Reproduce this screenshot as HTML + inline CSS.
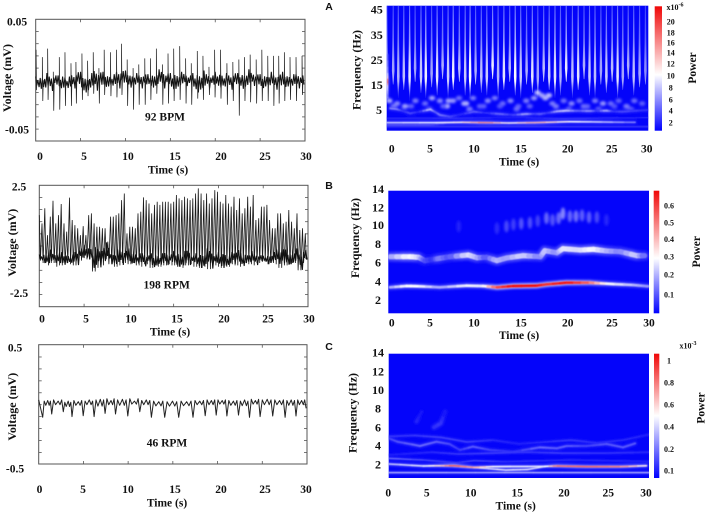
<!DOCTYPE html>
<html lang="en">
<head>
<meta charset="utf-8">
<title>ECG, respiration and EMG time series with power spectrograms</title>
<style>
html,body{margin:0;padding:0;background:#fff;width:708px;height:516px;overflow:hidden}
svg{display:block;filter:blur(.3px)}
text{font-family:"Liberation Serif",serif;font-weight:bold;fill:#111;font-size:11.5px;text-anchor:middle;dominant-baseline:central}
.big{font-size:12px}
.cb{font-size:8px}
.letter{font-family:"Liberation Sans",sans-serif;font-size:10.5px}
</style>
</head>
<body>
<svg id="fig" xmlns="http://www.w3.org/2000/svg" width="708" height="516" viewBox="0 0 708 516">
<defs>
<filter id="faint" x="-5%" y="-5%" width="110%" height="110%"><feGaussianBlur stdDeviation="0.3"/></filter>
<filter id="soft" x="-5%" y="-20%" width="110%" height="140%"><feGaussianBlur stdDeviation="0.55"/></filter>
<filter id="softer" x="-5%" y="-20%" width="110%" height="140%"><feGaussianBlur stdDeviation="1.3"/></filter>
<clipPath id="clipA"><rect x="386.7" y="5.7" width="261.6" height="125"/></clipPath>
<clipPath id="clipB"><rect x="388.3" y="190.7" width="260.7" height="122.6"/></clipPath>
<clipPath id="clipC"><rect x="388.7" y="353.7" width="260.3" height="124.3"/></clipPath>
<linearGradient id="cbarA" x1="0" y1="0" x2="0" y2="1"><stop offset="0" stop-color="#f00808"/><stop offset=".55" stop-color="#fff"/><stop offset="1" stop-color="#0000ff"/></linearGradient>
<linearGradient id="cbarC" x1="0" y1="0" x2="0" y2="1"><stop offset="0" stop-color="#f00808"/><stop offset=".5" stop-color="#fff"/><stop offset="1" stop-color="#0000ff"/></linearGradient>
<linearGradient id="streakFill" gradientUnits="userSpaceOnUse" x1="0" y1="5.7" x2="0" y2="98">
<stop offset="0" stop-color="#7078ff"/>
<stop offset=".35" stop-color="#a0a6ff"/>
<stop offset=".62" stop-color="#f4f4ff"/>
<stop offset=".82" stop-color="#ffffff"/>
<stop offset="1" stop-color="#ffffff" stop-opacity=".1"/>
</linearGradient>
</defs>

<!-- left panels: frames -->
<rect x="35.7" y="19.3" width="269.3" height="121.7" fill="#fff" stroke="#555" stroke-width="1"/>
<rect x="39.3" y="185.3" width="268.7" height="121.4" fill="#fff" stroke="#555" stroke-width="1"/>
<rect x="38.7" y="344.7" width="268.3" height="119.3" fill="#fff" stroke="#555" stroke-width="1"/>
<g id="leftMarks"></g>

<!-- left panels: labels -->
<g>
<text x="17" y="22.7">0.05</text>
<text x="17" y="130.7">-0.05</text>
<text class="big" transform="translate(7,78) rotate(-90)">Voltage (mV)</text>
<text x="40" y="157">0</text>
<text x="84" y="157">5</text>
<text x="128" y="157">10</text>
<text x="175" y="157">15</text>
<text x="221" y="157">20</text>
<text x="265" y="157">25</text>
<text x="306" y="157">30</text>
<text x="168" y="170.5">Time (s)</text>
<text x="165" y="117.7">92 BPM</text>
</g>
<g>
<text x="19" y="187.3">2.5</text>
<text x="19" y="294">-2.5</text>
<text class="big" transform="translate(12,242.7) rotate(-90)">Voltage (mV)</text>
<text x="42" y="319.3">0</text>
<text x="86" y="319.3">5</text>
<text x="131" y="319.3">10</text>
<text x="177" y="319.3">15</text>
<text x="224" y="319.3">20</text>
<text x="268" y="319.3">25</text>
<text x="309" y="319.3">30</text>
<text x="170" y="332.7">Time (s)</text>
<text x="166.7" y="285.7">198 RPM</text>
</g>
<g>
<text x="15" y="348.3">0.5</text>
<text x="15" y="469.3">-0.5</text>
<text class="big" transform="translate(12,406.7) rotate(-90)">Voltage (mV)</text>
<text x="39.5" y="490">0</text>
<text x="83" y="490">5</text>
<text x="128" y="490">10</text>
<text x="175" y="490">15</text>
<text x="221" y="490">20</text>
<text x="265" y="490">25</text>
<text x="306" y="490">30</text>
<text x="167" y="503.3">Time (s)</text>
<text x="167" y="443.3">46 RPM</text>
</g>

<!-- right panels -->
<text class="letter" x="329" y="7">A</text>
<text class="letter" x="329" y="186">B</text>
<text class="letter" x="329" y="347">C</text>

<rect x="386.7" y="5.7" width="261.6" height="125" fill="#0404fa"/>
<rect x="388.3" y="190.7" width="260.7" height="122.6" fill="#0404fa"/>
<rect x="388.7" y="353.7" width="260.3" height="124.3" fill="#0404fa"/>
<g id="heatA" clip-path="url(#clipA)"></g>
<g id="heatB" clip-path="url(#clipB)"></g>
<g id="heatC" clip-path="url(#clipC)"></g>

<rect x="654.7" y="6.3" width="7.3" height="124.4" fill="url(#cbarA)"/>
<rect x="653.7" y="190.7" width="5.6" height="122.6" fill="url(#cbarA)"/>
<rect x="654" y="353.7" width="5.3" height="124.3" fill="url(#cbarC)"/>

<g>
<text class="big" x="376.7" y="9.3">45</text>
<text class="big" x="376.7" y="35">35</text>
<text class="big" x="376.7" y="60">25</text>
<text class="big" x="376.7" y="85">15</text>
<text class="big" x="379" y="110">5</text>
<text class="big" transform="translate(356.7,70) rotate(-90)">Frequency (Hz)</text>
<text x="391.7" y="149.5">0</text>
<text x="430" y="149.5">5</text>
<text x="474" y="149.5">10</text>
<text x="521" y="149.5">15</text>
<text x="567.7" y="149.5">20</text>
<text x="611.7" y="149.5">25</text>
<text x="646.7" y="149.5">30</text>
<text x="519" y="162.5">Time (s)</text>
<text class="cb" x="670.7" y="22">20</text>
<text class="cb" x="670.7" y="33">18</text>
<text class="cb" x="670.7" y="43">16</text>
<text class="cb" x="670.7" y="53">14</text>
<text class="cb" x="670.7" y="64">12</text>
<text class="cb" x="670.7" y="76">10</text>
<text class="cb" x="670.7" y="88">8</text>
<text class="cb" x="670.7" y="100">6</text>
<text class="cb" x="670.7" y="111">4</text>
<text class="cb" x="670.7" y="123">2</text>
<text class="cb" x="675" y="7.5">x10<tspan dy="-2" font-size="6">-6</tspan></text>
<text transform="translate(693,68) rotate(-90)">Power</text>
</g>
<g>
<text class="big" x="378" y="189">14</text>
<text class="big" x="378" y="207.3">12</text>
<text class="big" x="378" y="225">10</text>
<text class="big" x="378" y="244">8</text>
<text class="big" x="378" y="262.7">6</text>
<text class="big" x="378" y="281.7">4</text>
<text class="big" x="378" y="300">2</text>
<text class="big" transform="translate(355,238) rotate(-90)">Frequency (Hz)</text>
<text x="391.7" y="323.3">0</text>
<text x="430" y="323.3">5</text>
<text x="474" y="323.3">10</text>
<text x="521" y="323.3">15</text>
<text x="567.7" y="323.3">20</text>
<text x="612" y="323.3">25</text>
<text x="649" y="323.3">30</text>
<text x="519" y="336">Time (s)</text>
<text class="cb" x="669" y="206">0.6</text>
<text class="cb" x="669" y="223">0.5</text>
<text class="cb" x="669" y="239.5">0.4</text>
<text class="cb" x="669" y="257">0.3</text>
<text class="cb" x="669" y="275">0.2</text>
<text class="cb" x="669" y="295">0.1</text>
<text transform="translate(697,251.7) rotate(-90)">Power</text>
</g>
<g>
<text class="big" x="378" y="352.7">14</text>
<text class="big" x="378" y="371.3">12</text>
<text class="big" x="378" y="390">10</text>
<text class="big" x="378" y="408.7">8</text>
<text class="big" x="378" y="427.3">6</text>
<text class="big" x="378" y="445.7">4</text>
<text class="big" x="378" y="464.3">2</text>
<text class="big" transform="translate(352.7,413) rotate(-90)">Frequency (Hz)</text>
<text x="388.3" y="493.7">0</text>
<text x="426.7" y="493.7">5</text>
<text x="470.7" y="493.7">10</text>
<text x="517.3" y="493.7">15</text>
<text x="564" y="493.7">20</text>
<text x="608.3" y="493.7">25</text>
<text x="646" y="493.7">30</text>
<text x="515.7" y="506.7">Time (s)</text>
<text class="cb" x="669" y="361">1</text>
<text class="cb" x="669" y="383">0.8</text>
<text class="cb" x="669" y="405">0.6</text>
<text class="cb" x="669" y="427">0.4</text>
<text class="cb" x="669" y="449.3">0.2</text>
<text class="cb" x="669" y="471">0.1</text>
<text class="cb" x="688" y="346">x10<tspan dy="-2" font-size="6">-3</tspan></text>
<text transform="translate(701.5,408) rotate(-90)">Power</text>
</g>
</svg>

<script>
/* ---------- tick values ---------- */
var timeTicks = [5, 10, 15, 20, 25];
var tickSteps = [-4, -3, -2, -1, 0, 1, 2, 3, 4];

/* ---------- panel 1: 92 BPM trace (microvolts) ---------- */
var ecgBeatTimes = [0.04,0.74,1.33,1.96,2.63,3.26,3.93,4.48,5.15,5.78,6.41,7.04,7.63,8.33,9.0,9.56,10.19,10.85,11.48,12.15,12.78,13.44,14.11,14.74,15.37,16.04,16.7,17.33,18,18.63,19.3,19.93,20.59,21.3,21.96,22.63,23.26,23.89,24.56,25.19,25.85,26.48,27.07,27.7,28.33,29,29.67];
var ecgPeaks = [25,19,26,7,19,23,14,15,22,16,23,10,25,23,25,30,17,10,13,18,18,26,13,22,26,28,18,14,24,20,11,25,25,14,15,17,19,21,17,25,20,20,20,23,19,19,20];
var ecgTroughs = [-8,-17,-16,-25,-24,-21,-21,-19,-16,-13,-11,-19,-12,-13,-14,-12,-21,-24,-20,-20,-16,-11,-20,-19,-17,-16,-19,-20,-15,-16,-12,-14,-15,-20,-17,-29,-17,-18,-19,-17,-17,-21,-19,-17,-16,-17,-12];
var ecgBandUpper = [3,5,6,4,5,4,6,3,5,8,7,5,6,9,8,7,6,5,8,9,8,7,6,5,6,5,7,9,8,7,6,8,7,6,5,6,9,8,6,5,7,8,6,5,7,6,8,9,7,6,5,6,7,5,6,7,6,5,6,5,4];
var ecgBandLower = [-6,-7,-8,-9,-6,-7,-6,-8,-7,-6,-9,-10,-8,-9,-7,-6,-5,-6,-7,-5,-4,-6,-5,-7,-6,-5,-6,-5,-7,-6,-8,-7,-6,-5,-6,-8,-10,-9,-7,-6,-5,-6,-7,-8,-6,-5,-7,-6,-5,-6,-7,-5,-6,-8,-7,-6,-5,-6,-7,-6,-5];
var bandTexture = [1,.6,.35,.9,.5,1,.4,.75,.3,.7,1,.45,.85,.35,.6,.95,.5,.3,.8,.55];

/* ---------- panel 2: 198 RPM trace (mV) ---------- */
var respPeaks = [1.27,.93,1.55,.45,1.21,1.86,.93,1.27,1.73,.93,.59,1.99,1.07,.86,.73,.45,.82,.45,1.27,1.34,.93,.79,.79,.73,.73,.18,1.21,1.21,1.27,1.34,1.89,2.16,.52,.79,.79,.73,1.34,1.41,2.0,1.89,1.75,1.34,1.69,1.82,1.69,1.82,1.82,1.82,1.75,1.82,2.1,1.96,1.89,2.03,1.96,1.89,1.96,2.16,2.37,2.16,1.89,2.16,1.75,1.96,2.3,2.23,1.82,1.75,2.1,1.75,1.62,2.03,1.48,1.96,1.34,1.55,2.03,1.62,2.1,1.07,1.14,1.62,1.62,1.69,1.07,.73,.73,1.34,1.34,.93,1.0,1.48,1.0,.73,1.34,.66,.73,.52];
var respBandUpper = [-.35,-.25,-.15,-.3,-.2,-.25,-.3,-.35,-.2,-.05,.05,.05,-.05,-.05,.0,.15,-.2,-.15,-.1,-.15,-.1,-.2,-.3,-.25,-.35,-.3,-.25,-.3,-.25,-.3,-.2,-.15,-.2,-.15,-.35,-.3,-.2,-.1,-.15,-.3,-.25,-.15,-.35,-.2,-.1,-.3,-.25,-.2,-.3,-.35,-.4,-.3,-.25,-.1,-.05,-.15,-.2,-.1,-.3,-.1,.05];
var respBandLower = [-.6,-.7,-.8,-.7,-.85,-.8,-.7,-.75,-.8,-.6,-.5,-.55,-1.05,-.9,-.8,-.55,-.75,-.85,-.8,-.7,-.75,-.7,-.8,-.85,-.75,-.9,-.8,-.85,-.8,-.75,-.8,-.85,-.9,-.8,-.75,-.85,-.9,-.85,-.95,-.8,-.85,-.9,-.85,-.75,-.8,-.85,-.7,-.75,-.8,-.7,-.65,-.75,-.7,-.75,-.9,-.8,-.75,-.7,-1.0,-.7,-.55];

/* ---------- panel 3: 46 RPM trace (mV) ---------- */
var waveTroughTimes = [0.45,1.45,2.75,3.72,4.98,6.2,7.43,8.59,9.96,11.3,12.6,14.09,15.65,17.25,18.62,19.85,21.04,22.34,23.57,24.76,26.17,27.55,28.77,29.9];
var waveTroughs = [-.106,-.078,-.059,-.1,-.092,-.1,-.073,-.078,-.095,-.059,-.106,-.106,-.106,-.106,-.092,-.087,-.095,-.087,-.106,-.1,-.095,-.106,-.095,-.03];
var wavePeakA = [.03,.04,.02,.035,.03,.04,.05,.04,.05,.035,.03,.025,.03,.035,.04,.04,.035,.03,.045,.04,.04,.035,.04,.03];
var waveDips = [-.005,.0,-.015,-.005,.0,-.012,.0,-.005,.005,.0,-.01,-.012,-.008,.0,.0,.005,-.005,-.008,.005,.0,.0,-.005,.0,.0];
var wavePeakB = [.035,.03,.03,.025,.04,.045,.035,.045,.03,.04,.025,.03,.025,.03,.035,.035,.03,.04,.035,.045,.035,.04,.035,.02];

/* ---------- spectrogram A ---------- */
var aStreakPower = [.5,.65,.7,.75,.9,.65,.8,.95,.65,.9,.7,.8,.95,.75,.8,1,.7,.75,.8,.95,.7,.9,.75,1,.8,.7,.9,.65,.75,.8,.9,.7,.95,.75,.9,.7,.8,.75,.65,.8,.75,.9,.65,.7,.75,.65,.55];
var aStreakBase = [14,17,12,15,11,18,14,12,16,13,19,12,15,18,13,12,17,14,13,19,12,15,18,13,12,17,14,12,18,15,12,13,18,12,15,19,13,12,17,14,18,12,15,19,13,16,17];
var aSpeckleTimes = [.3,1.2,2.1,3.3,4.4,5.2,6.1,6.9,7.6,8.3,9.1,9.9,10.7,11.6,12.4,13.3,14.2,15.1,16,16.9,17.8,18.6,19.4,20.3,21.2,22.1,23,23.9,24.8,25.7,26.6,27.5,28.4,29.3,7.1,8.9,17.3,18.2,.8,2.8,4.9,6.5,9.5,11.1,13,14.9,16.4,19,20.9,22.6,24.3,26.1,28];
var aSpeckleFreqs = [11,10,9,11,10,12,11,9,11,12,10,12,9,11,12,10,11,9,11,12,13,13,9,11,10,11,9,11,10,10,11,9,11,10,11,10,14,12,9,9,8,9,8,9,9,8,9,10,8,9,8,9,8];
var aSpecklePower = [.26,.2,.24,.18,.16,.24,.2,.26,.22,.16,.28,.18,.14,.2,.18,.16,.2,.14,.18,.22,.24,.28,.18,.16,.2,.16,.14,.18,.22,.16,.14,.18,.16,.14,.24,.26,.28,.26,.18,.14,.16,.14,.18,.14,.12,.16,.14,.18,.14,.16,.14,.12,.14];
var aMainTimes = [0,5.7,8.7,11.4,14,17,20.9,24.7,28.5];
var aMainFreqs = [2.96,2.96,3.08,2.96,2.83,2.96,3.32,3.2,3.08];
var aMainPower = [.42,.5,.55,.78,.5,.7,.5,.42,.22];
var aLowTimes = [0,5,6.5];
var aLowFreqs = [2.1,2.1,2.3];
var aLowPower = [.22,.2,.05];
var aBottomTimes = [0,10,20,30];
var aBottomFreqs = [1.48,1.48,1.48,1.48];
var aBottomPower = [.14,.14,.14,.14];
var aMidTimes = [.4,1.1,1.9,2.7,3.8,5,5.6,6.1,7.3,8.5,10,11.5,13,14.5,16,17,17.6,18.6,19.5,20.6,22,23.3,24.2,25.2,26,27,29.9];
var aMidFreqs = [8.23,7.99,7.2,6.39,7,7.86,6.8,5.78,5.16,6,7,6.5,6.14,5.8,6.14,6.2,6.14,6.6,7.13,7.37,7.3,7.25,7.3,7.37,7.1,7,7.62];
var aMidPower = [.22,.25,.08,.14,.05,.38,.15,.22,.13,.05,.18,.06,.2,.08,.32,.1,.18,.08,.3,.38,.15,.28,.08,.34,.08,.14,.08];
var aFaintTimes = [0,8,14,20,30];
var aFaintFreqs = [4.6,4.6,4.8,4.5,4.8];
var aFaintPower = [.08,.12,.06,.12,.08];
var aEdgeTimes = [.1,.1,.1,.1,.1];
var aEdgeFreqs = [28,21,18,16,12];
var aEdgePower = [.15,.3,.9,.5,.3];

/* ---------- spectrogram B ---------- */
var bFirstTimes = [.2,2.1,3.6,5.9,9,10.9,12.5,14.4,17.1,18.2,20.5,23.2,25.1,28.2,29.9];
var bFirstFreqs = [3.38,3.52,3.49,3.38,3.56,3.52,3.38,3.52,3.56,3.7,3.88,3.88,3.77,3.63,3.49];
var bFirstPower = [.3,.5,.5,.3,.48,.45,.85,1,1,.9,1,.8,.5,.36,.28];
var bSecondTimes = [.2,2.5,3.5,4.2,5.2,5.9,7.1,9.2,10.2,11.3,12.5,13.6,15.5,17.5,18,19.4,20.1,22.1,23.6,25.1,26.7,28.6,29.5];
var bSecondFreqs = [6.71,6.71,6.64,6.28,6.42,6.53,6.71,6.89,6.6,6.64,6.28,6.57,6.82,6.71,7.36,7.14,7.58,7.43,7.51,7.33,7.25,6.82,6.82];
var bSecondPower = [.3,.5,.42,.16,.08,.26,.14,.45,.36,.14,.36,.3,.42,.24,.4,.26,.45,.42,.5,.36,.24,.42,.18];
var bWispTimes = [12.5,13.6,14.4,15.3,16.3,17.2,18.2,18.9,19.6,20.1,20.9,21.6,22.3,23.1,24,25.1,8.1];
var bWispFreqs = [9.8,10,10.2,10.3,10.4,10.6,10.9,10.7,10.9,11.4,11.1,11.1,11.2,11,11,10.7,10];
var bWispPower = [.08,.14,.12,.16,.15,.12,.2,.16,.2,.26,.2,.22,.18,.18,.14,.07,.06];

/* ---------- spectrogram C ---------- */
var cMainTimes = [0,4,6,7.5,9.8,12,18,19.4,22.9,26.7,29.7];
var cMainFreqs = [2.03,1.82,1.85,1.85,1.67,1.75,1.78,1.82,1.75,1.75,1.85];
var cMainPower = [.36,.45,.6,.85,.7,.5,.45,.78,.82,.76,.5];
var cLowerTimes = [7,10.5,13.5,16,18.2];
var cLowerFreqs = [1.85,1.6,1.38,1.44,1.78];
var cLowerPower = [.3,.42,.5,.48,.4];
var cSteadyTimes = [0,10,20,30];
var cSteadyFreqs = [1.1,1.1,1.1,1.1];
var cSteadyPower = [.42,.4,.42,.4];
var cUpperTimes = [0,4,7.8,9.8,13.5,21,30];
var cUpperFreqs = [2.64,2.46,2.18,2.39,2.28,2.46,2.3];
var cUpperPower = [.22,.14,.1,.14,.1,.08,.07];
var cBandTimes = [0,1,3.6,5.5,7,8.2,9.7,11.7,14.4,17.4,19.4,20.5,22.8,25.1,27,28.4];
var cBandFreqs = [4.79,4.43,3.97,4.43,4.18,3.54,3.9,3.54,3.36,3.82,3.72,3.97,3.97,4.18,3.82,4.25];
var cBandPower = [.12,.15,.2,.18,.14,.1,.18,.12,.08,.2,.17,.18,.12,.16,.17,.16];
var cBandTwoTimes = [0,3,6,9,12,15,18,21,24,27,30];
var cBandTwoFreqs = [5,5.1,4.9,4.4,4.6,4.2,4.4,4.6,4.3,4.6,5.2];
var cBandTwoPower = [.1,.1,.12,.12,.08,.06,.08,.1,.08,.08,.06];
var cBandThreeTimes = [0,5,8,12,16,20,25,30];
var cBandThreeFreqs = [3,3.3,3.1,3.2,3.3,3.2,3.2,3.3];
var cBandThreePower = [.05,.08,.1,.12,.1,.12,.1,.08];
var cHookTimes = [5.2,6,6.5];
var cHookFreqs = [5.98,6.41,7.66];
var cHookPower = [.08,.1,.03];
var cHookTwoTimes = [3.2,3.8];
var cHookTwoFreqs = [6.58,7.66];
var cHookTwoPower = [.07,.02];

/* ---------- helpers ---------- */
var NS = 'http://www.w3.org/2000/svg';
function make(tag, attrs, parent) {
  var el = document.createElementNS(NS, tag);
  for (var k in attrs) el.setAttribute(k, attrs[k]);
  parent.appendChild(el);
  return el;
}
function colormap(p) {
  p = Math.max(0, Math.min(1, p));
  var r, g, b;
  if (p < .5) { var q = p / .5; r = 4 + 251 * q; g = 4 + 251 * q; b = 250 + 5 * q; }
  else { var s = (p - .5) / .5; r = 255 - 15 * s; g = 255 - 245 * s; b = 255 - 245 * s; }
  return 'rgb(' + Math.round(r) + ',' + Math.round(g) + ',' + Math.round(b) + ')';
}

/* ---------- scales ---------- */
function x1(t) { return 35.7 + t * 8.977; }
function y1(uV) { return 80.3 - uV * 1.22; }
function x2(t) { return 39.3 + t * 8.957; }
function y2(v) { return 246 - v * 24.3; }
function x3(t) { return 38.7 + t * 8.943; }
function y3(v) { return 404.7 - v * 119.3; }
function hxA(t) { return 386.7 + t * 8.72; }
function hyA(f) { return 130.7 - f * 2.717; }
function hxB(t) { return 388.3 + t * 8.69; }
function hyB(f) { return 300 - (f - 2) * 9.2; }
function hxC(t) { return 388.7 + t * 8.68; }
function hyC(f) { return 464.3 - (f - 2) * 9.3; }

/* ---------- time-series panels ---------- */
var left = document.getElementById('leftMarks');

function drawTicks(xs, top, bottom, lft, rgt, mid, step, name) {
  var g = make('g', {stroke: '#555', 'stroke-width': .8, fill: 'none'}, left);
  
  
  timeTicks.forEach(function (t) {
    make('line', {x1: xs(t), x2: xs(t), y1: top, y2: top + 3}, g);
    make('line', {x1: xs(t), x2: xs(t), y1: bottom, y2: bottom - 3}, g);
  });
  tickSteps.forEach(function (k) {
    var y = mid + k * step;
    make('line', {x1: lft, x2: lft + 3, y1: y, y2: y}, g);
    make('line', {x1: rgt, x2: rgt - 3, y1: y, y2: y}, g);
  });
}
function bandZigzag(upper, lower, xs, ys, name) {
  var pts = [], c = 0;
  for (var i = 0; i < upper.length - 1; i++) {
    var mid = (upper[i] + lower[i]) / 2;
    for (var k = 0; k < 4; k++) {
      var edge = k % 2 === 0 ? upper[i] : lower[i];
      var v = mid + (edge - mid) * bandTexture[c % bandTexture.length];
      c++;
      pts.push(xs((i + k / 4) * .5).toFixed(1) + ',' + ys(v).toFixed(1));
    }
  }
  var el = make('polyline', {points: pts.join(' '), fill: 'none', stroke: '#111', 'stroke-width': 1.05, 'stroke-linejoin': 'bevel'}, left);
  
  
}

drawTicks(x1, 19.3, 141, 35.7, 305, 80.3, 12.2, 'ecg-ticks');
drawTicks(x2, 185.3, 306.7, 39.3, 308, 246, 12.15, 'respiration-ticks');
drawTicks(x3, 344.7, 464, 38.7, 307, 404.7, 11.93, 'emg-ticks');

bandZigzag(ecgBandUpper, ecgBandLower, x1, y1, 'ecg-noise-band');
ecgBeatTimes.forEach(function (t, i) {
  var pts = x1(t) + ',' + y1(0) + ' ' + x1(t) + ',' + y1(ecgPeaks[i]) + ' ' + x1(t + .05) + ',' + y1(ecgTroughs[i]) + ' ' + x1(t + .1) + ',' + y1(0);
  var el = make('polyline', {points: pts, fill: 'none', stroke: '#222', 'stroke-width': .75}, left);
  
  
});

var respPts = [];
respPeaks.forEach(function (v, i) {
  var t = i * 30 / respPeaks.length;
  var low = respBandLower[Math.min(respBandLower.length - 1, Math.round((t + .12) / .5))];
  respPts.push(x2(t).toFixed(1) + ',' + y2(v).toFixed(1));
  respPts.push(x2(t + .12).toFixed(1) + ',' + y2(low).toFixed(1));
});
var respLine = make('polyline', {points: respPts.join(' '), fill: 'none', stroke: '#1a1a1a', 'stroke-width': .8, 'stroke-linejoin': 'bevel'}, left);


bandZigzag(respBandUpper, respBandLower, x2, y2, 'respiration-noise-band');

var wavePts = [];
wavePts.push(x3(0).toFixed(1) + ',' + y3(.04).toFixed(1));
waveTroughTimes.forEach(function (t, i) {
  wavePts.push(x3(t).toFixed(1) + ',' + y3(waveTroughs[i]).toFixed(1));
  var nextT = i + 1 < waveTroughTimes.length ? waveTroughTimes[i + 1] : t;
  var gap = nextT - t;
  if (gap > 0) {
    wavePts.push(x3(t + gap * .17).toFixed(1) + ',' + y3(wavePeakA[i]).toFixed(1));
    wavePts.push(x3(t + gap * .34).toFixed(1) + ',' + y3(waveDips[i]).toFixed(1));
    wavePts.push(x3(t + gap * .56).toFixed(1) + ',' + y3(wavePeakB[i]).toFixed(1));
    wavePts.push(x3(t + gap * .72).toFixed(1) + ',' + y3(waveDips[i]).toFixed(1));
    wavePts.push(x3(t + gap * .86).toFixed(1) + ',' + y3(wavePeakA[i]).toFixed(1));
  }
});
var waveLine = make('polyline', {points: wavePts.join(' '), fill: 'none', stroke: '#222', 'stroke-width': 1, 'stroke-linejoin': 'round'}, left);



/* ---------- spectrograms ---------- */
function layers(id) {
  var root = document.getElementById(id);
  var halo = make('g', {filter: 'url(#softer)'}, root);
  var light = make('g', {filter: 'url(#faint)'}, root);
  var core = make('g', {filter: 'url(#soft)'}, root);
  return {root: root, halo: halo, light: light, core: core};
}
function ridge(L, xs, ys, times, freqs, power, width, haloShare) {
  for (var i = 0; i < times.length - 1; i++) {
    var steps = 3;
    for (var s = 0; s < steps; s++) {
      var a = s / steps, b = (s + 1) / steps;
      var t0 = times[i] + (times[i + 1] - times[i]) * a, t1 = times[i] + (times[i + 1] - times[i]) * b;
      var f0 = freqs[i] + (freqs[i + 1] - freqs[i]) * a, f1 = freqs[i] + (freqs[i + 1] - freqs[i]) * b;
      var p = power[i] + (power[i + 1] - power[i]) * (a + b) / 2;
      var h = make('line', {x1: xs(t0), y1: ys(f0), x2: xs(t1), y2: ys(f1), stroke: colormap(p * haloShare), 'stroke-width': width * 1.9, 'stroke-linecap': 'round'}, L.halo);
      
      
      var c = make('line', {x1: xs(t0), y1: ys(f0), x2: xs(t1), y2: ys(f1), stroke: colormap(p), 'stroke-width': width, 'stroke-linecap': 'round'}, L.core);
      
      
    }
  }
}

var LA = layers('heatA');
aSpeckleTimes.forEach(function (t, i) {
  var el = make('ellipse', {cx: hxA(t), cy: hyA(aSpeckleFreqs[i]), rx: 3.2, ry: 2.4, fill: colormap(aSpecklePower[i] * 1.3)}, LA.halo);
  
  
});
ecgBeatTimes.forEach(function (t, i) {
  var x = hxA(t), top = hyA(46), base = hyA(aStreakBase[i]);
  var upper = hyA(32), mid = hyA(Math.max(aStreakBase[i] + 5, 20));
  var pts = [x - .5, top, x + .5, top, x + .85, upper, x + 1.3, mid, x + .25, base, x - .25, base, x - 1.3, mid, x - .85, upper];
  var pairs = [];
  for (var k = 0; k < pts.length; k += 2) pairs.push(pts[k].toFixed(1) + ',' + pts[k + 1].toFixed(1));
  var el = make('polygon', {points: pairs.join(' '), fill: 'url(#streakFill)', opacity: aStreakPower[i]}, LA.light);
  
  
});
ridge(LA, hxA, hyA, aFaintTimes, aFaintFreqs, aFaintPower, 1, .3);
ridge(LA, hxA, hyA, aMidTimes, aMidFreqs, aMidPower, 1.8, .5);
ridge(LA, hxA, hyA, aBottomTimes, aBottomFreqs, aBottomPower, .9, .3);
ridge(LA, hxA, hyA, aLowTimes, aLowFreqs, aLowPower, .8, .3);
ridge(LA, hxA, hyA, aMainTimes, aMainFreqs, aMainPower, 1.3, .4);
ridge(LA, hxA, hyA, aEdgeTimes, aEdgeFreqs, aEdgePower, 1.2, .3);

var LB = layers('heatB');
bWispTimes.forEach(function (t, i) {
  var el = make('ellipse', {cx: hxB(t), cy: hyB(bWispFreqs[i]), rx: 2.4, ry: 6, fill: colormap(bWispPower[i])}, LB.halo);
  
  
});
ridge(LB, hxB, hyB, bSecondTimes, bSecondFreqs, bSecondPower, 5.2, .35);
ridge(LB, hxB, hyB, bFirstTimes, bFirstFreqs, bFirstPower, 2.6, .4);

var LC = layers('heatC');
ridge(LC, hxC, hyC, cHookTwoTimes, cHookTwoFreqs, cHookTwoPower, 2.6, .8);
ridge(LC, hxC, hyC, cHookTimes, cHookFreqs, cHookPower, 2.8, .8);
ridge(LC, hxC, hyC, cBandTwoTimes, cBandTwoFreqs, cBandTwoPower, 1.5, .5);
ridge(LC, hxC, hyC, cBandThreeTimes, cBandThreeFreqs, cBandThreePower, 1.3, .5);
ridge(LC, hxC, hyC, cBandTimes, cBandFreqs, cBandPower, 1.8, .5);
ridge(LC, hxC, hyC, cUpperTimes, cUpperFreqs, cUpperPower, 1.2, .4);
ridge(LC, hxC, hyC, cSteadyTimes, cSteadyFreqs, cSteadyPower, 1, .4);
ridge(LC, hxC, hyC, cLowerTimes, cLowerFreqs, cLowerPower, 1.2, .4);
ridge(LC, hxC, hyC, cMainTimes, cMainFreqs, cMainPower, 1.5, .4);
</script>
</body>
</html>
